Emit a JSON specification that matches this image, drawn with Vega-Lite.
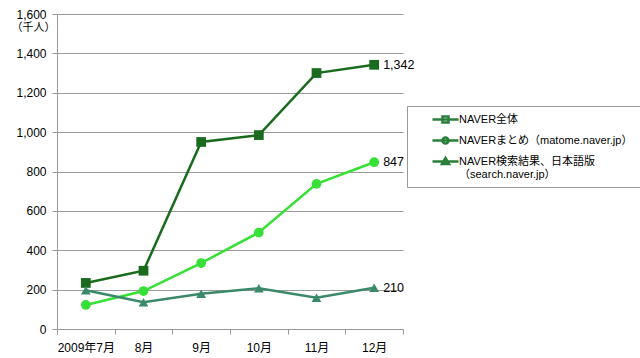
{
  "$schema": "https://vega.github.io/schema/vega-lite/v6.json",
  "width": 346,
  "height": 315,
  "autosize": {"type": "none"},
  "padding": {"left": 57, "top": 14, "right": 237, "bottom": 29},
  "background": "white",
  "config": {
    "font": "'Liberation Sans', 'Noto Sans CJK JP', sans-serif",
    "view": {"stroke": null},
    "legend": {"symbolBaseStrokeColor": "#2a7f3a", "symbolBaseFillColor": "#2a7f3a"}
  },
  "data": {
    "values": [
      {"month": "2009年7月", "series": "NAVER全体", "value": 234},
      {"month": "8月", "series": "NAVER全体", "value": 296},
      {"month": "9月", "series": "NAVER全体", "value": 950},
      {"month": "10月", "series": "NAVER全体", "value": 985},
      {"month": "11月", "series": "NAVER全体", "value": 1300},
      {"month": "12月", "series": "NAVER全体", "value": 1342},
      {"month": "2009年7月", "series": "NAVERまとめ（matome.naver.jp）", "value": 122},
      {"month": "8月", "series": "NAVERまとめ（matome.naver.jp）", "value": 193},
      {"month": "9月", "series": "NAVERまとめ（matome.naver.jp）", "value": 335},
      {"month": "10月", "series": "NAVERまとめ（matome.naver.jp）", "value": 490},
      {"month": "11月", "series": "NAVERまとめ（matome.naver.jp）", "value": 737},
      {"month": "12月", "series": "NAVERまとめ（matome.naver.jp）", "value": 847},
      {"month": "2009年7月", "series": "NAVER検索結果、日本語版（search.naver.jp）", "value": 197},
      {"month": "8月", "series": "NAVER検索結果、日本語版（search.naver.jp）", "value": 136},
      {"month": "9月", "series": "NAVER検索結果、日本語版（search.naver.jp）", "value": 179},
      {"month": "10月", "series": "NAVER検索結果、日本語版（search.naver.jp）", "value": 207},
      {"month": "11月", "series": "NAVER検索結果、日本語版（search.naver.jp）", "value": 159},
      {"month": "12月", "series": "NAVER検索結果、日本語版（search.naver.jp）", "value": 210}
    ]
  },
  "encoding": {
    "x": {
      "field": "month",
      "type": "ordinal",
      "sort": ["2009年7月", "8月", "9月", "10月", "11月", "12月"],
      "scale": {"type": "band", "paddingInner": 0, "paddingOuter": 0},
      "axis": {
        "title": null,
        "labelAngle": 0,
        "tickBand": "extent",
        "tickSize": 5,
        "tickColor": "#999999",
        "domainColor": "#999999",
        "labelFontSize": 12,
        "labelColor": "#000000",
        "labelPadding": 8,
        "grid": false
      }
    },
    "y": {
      "field": "value",
      "type": "quantitative",
      "scale": {"domain": [0, 1600], "nice": false},
      "axis": {
        "values": [0, 200, 400, 600, 800, 1000, 1200, 1400, 1600],
        "format": ",.0f",
        "title": "（千人）",
        "titleAngle": 0,
        "titleX": -24,
        "titleY": 13,
        "titleAlign": "center",
        "titleBaseline": "middle",
        "titleFontSize": 11,
        "titleFontWeight": "normal",
        "titleColor": "#000000",
        "labelFontSize": 12,
        "labelColor": "#000000",
        "labelPadding": 6,
        "tickSize": 5,
        "tickColor": "#999999",
        "domainColor": "#999999",
        "gridColor": "#9a9a9a",
        "gridWidth": 1
      }
    },
    "color": {
      "field": "series",
      "type": "nominal",
      "scale": {
        "domain": ["NAVER全体", "NAVERまとめ（matome.naver.jp）", "NAVER検索結果、日本語版（search.naver.jp）"],
        "range": ["#1a6b1e", "#36e036", "#3a8a6a"]
      },
      "legend": null
    }
  },
  "resolve": {"scale": {"shape": "independent"}, "legend": {"shape": "independent"}},
  "layer": [
    {
      "mark": {"type": "line", "strokeWidth": 2.5}
    },
    {
      "mark": {"type": "point", "filled": true, "opacity": 1},
      "encoding": {
        "shape": {
          "field": "series",
          "type": "nominal",
          "scale": {
            "domain": ["NAVER全体", "NAVERまとめ（matome.naver.jp）", "NAVER検索結果、日本語版（search.naver.jp）"],
            "range": ["square", "circle", "triangle-up"]
          },
          "legend": null
        },
        "size": {"value": 95}
      }
    },
    {
      "mark": {"type": "point", "filled": false, "opacity": 0, "size": 0, "strokeWidth": 0},
      "encoding": {
        "shape": {
          "field": "series",
          "type": "nominal",
          "scale": {
            "domain": ["NAVER全体", "NAVERまとめ（matome.naver.jp）", "NAVER検索結果、日本語版（search.naver.jp）"],
            "range": ["M-2.6,0H2.6M-0.6,-0.6H0.6V0.6H-0.6Z", "M-2.6,0H2.6M-0.6,0A0.6,0.6 0 1,0 0.6,0A0.6,0.6 0 1,0 -0.6,0Z", "M-2.6,0H2.6M-0.7,0.5L0,-0.7L0.7,0.5Z"]
          },
          "legend": {
            "title": null,
            "orient": "none",
            "legendX": 350,
            "legendY": 92,
            "padding": 7,
            "strokeColor": "#999999",
            "fillColor": "white",
            "symbolSize": 100,
            "symbolStrokeWidth": 2.5,
            "symbolOffset": 25,
            "labelFontSize": 11,
            "labelColor": "#000000",
            "labelOffset": 7,
            "rowPadding": 4,
            "labelLimit": 300,
            "labelExpr": "datum.label == 'NAVER検索結果、日本語版（search.naver.jp）' ? ['NAVER検索結果、日本語版', '（search.naver.jp）'] : datum.label"
          }
        }
      }
    },
    {
      "transform": [{"filter": "datum.month == '12月'"}],
      "mark": {"type": "text", "align": "left", "dx": 9, "fontSize": 12.5},
      "encoding": {
        "text": {"field": "value", "type": "quantitative", "format": ","},
        "color": {"value": "#000000"}
      }
    }
  ]
}
